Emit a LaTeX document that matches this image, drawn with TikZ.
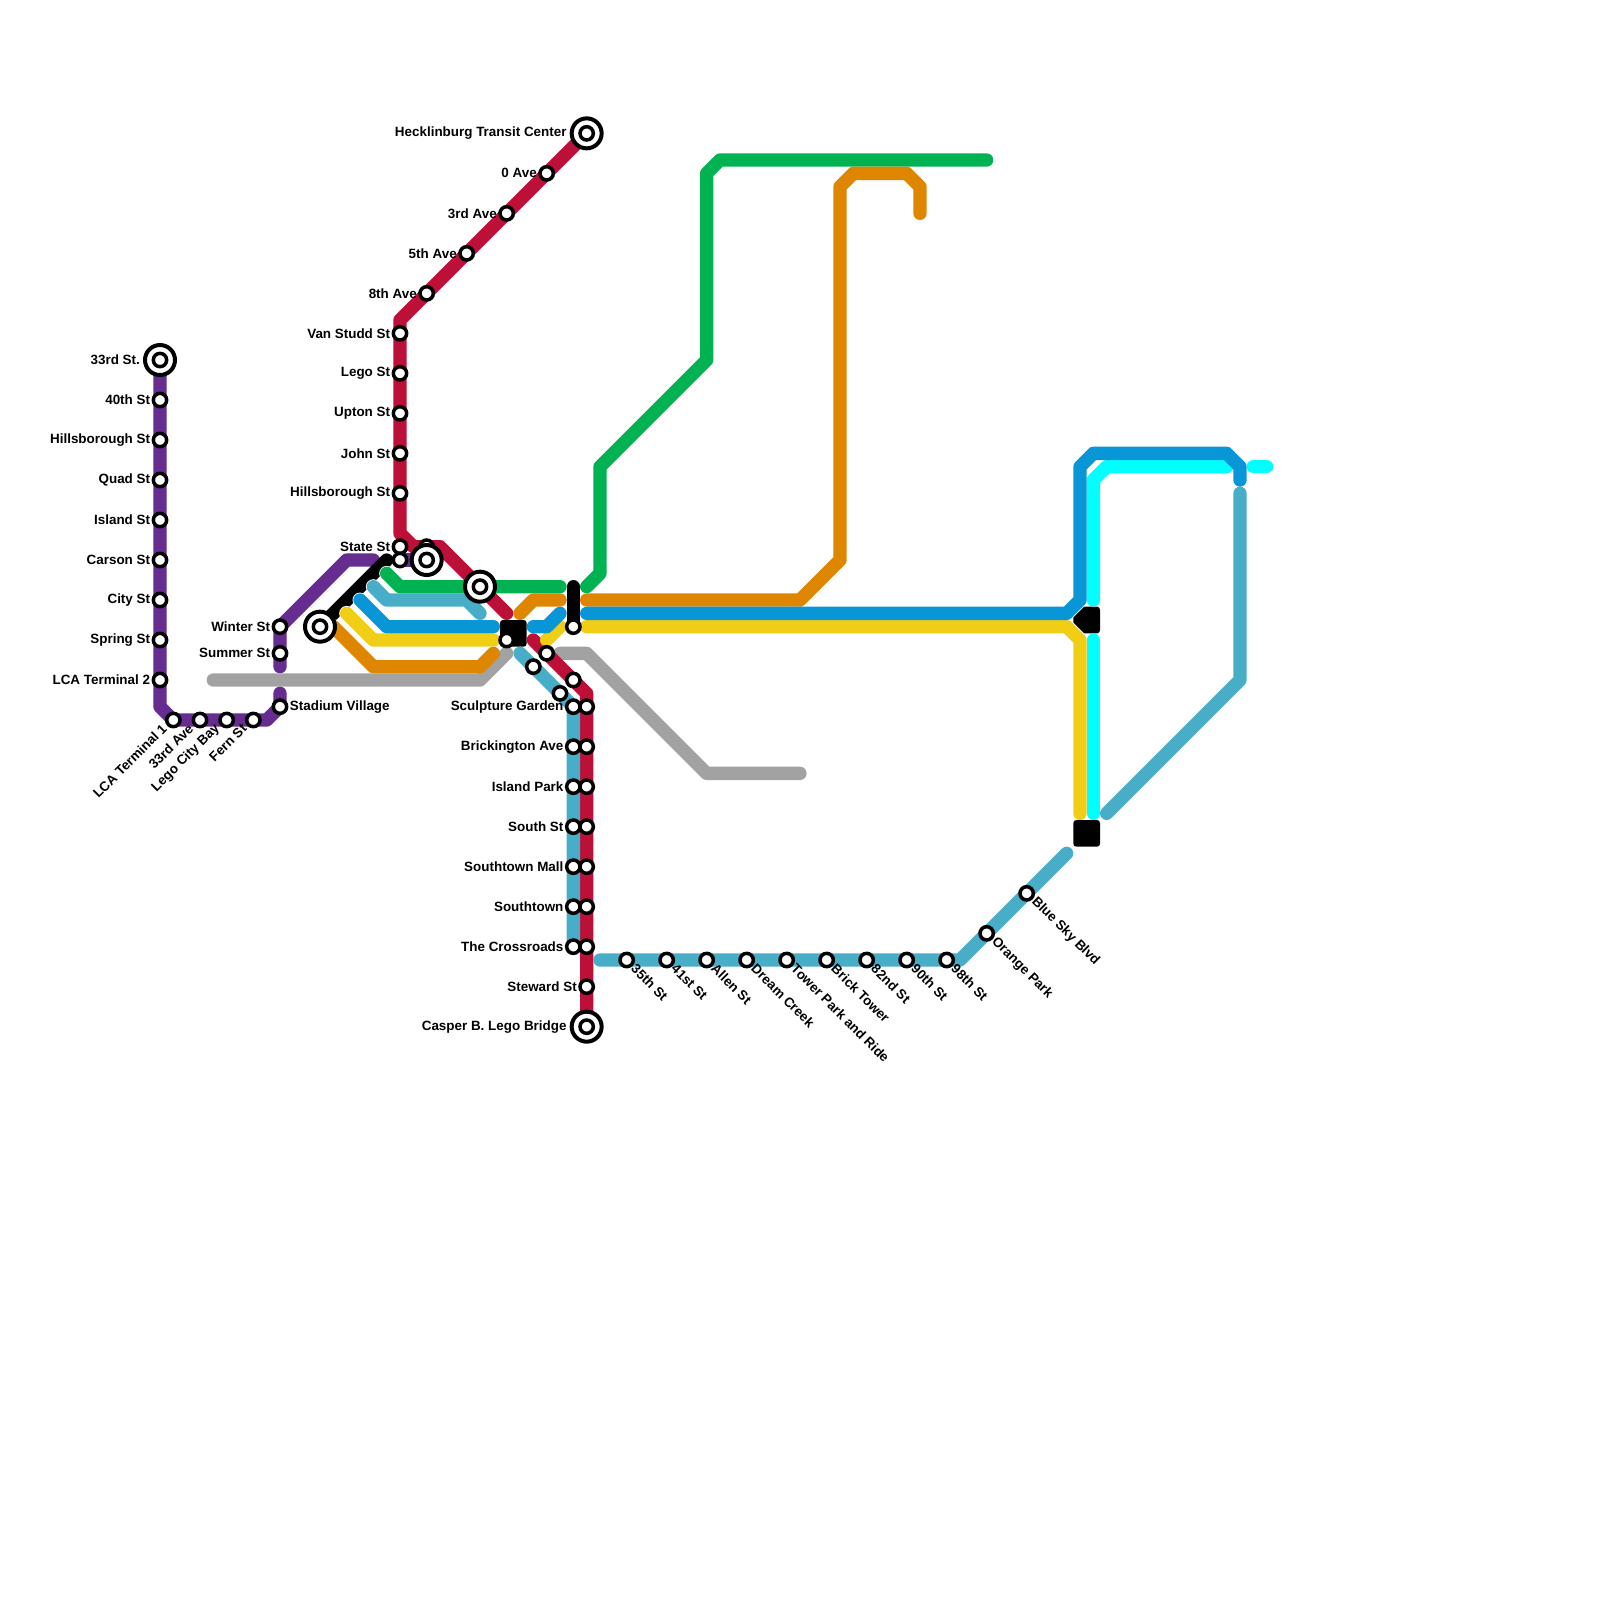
\documentclass[tikz,border=0pt]{standalone}
\usepackage{fontspec}
\setmainfont{Liberation Sans}
\usepackage{xcolor}
\usepackage{tikz}
\definecolor{lnpurple}{HTML}{662C90}
\definecolor{lnred}{HTML}{BD1038}
\definecolor{lngreen}{HTML}{00B251}
\definecolor{lnorange}{HTML}{DF8600}
\definecolor{lnyellow}{HTML}{F0CE15}
\definecolor{lnblue}{HTML}{0896D7}
\definecolor{lnteal}{HTML}{48ADC7}
\definecolor{lngray}{HTML}{A2A2A2}
\definecolor{lncyan}{HTML}{00FFFF}
\tikzset{
  metro/.style={line width=0.1333cm,line cap=round,line join=round},
  stn/.style={circle,draw=black,fill=white,line width=0.035cm,minimum size=0.1333cm,inner sep=0pt},
  hubring/.style={circle,draw=black,fill=white,line width=0.04cm,minimum size=0.3cm,inner sep=0pt},
  lab/.style={font=\fontsize{3.82pt}{4.4pt}\selectfont\bfseries,inner sep=0pt,text=black},
}
\begin{document}
\begin{tikzpicture}[x=0.13333cm,y=-0.13333cm,label distance=0.008cm]
\useasboundingbox (0,0) rectangle (120,120);
% purple branch that ends behind the black bar
\draw[metro,lnpurple] (21,50)--(21,47)--(26,42)--(28,42);
% black transfer pieces
\draw[metro,black] (24,47)--(29,42);
\draw[metro,black] (43,44)--(43,47);
\fill[black,rounded corners=0.03cm] (37.5,46.5) rectangle (39.5,48.5);
\fill[black,rounded corners=0.03cm] (80.5,45.5) rectangle (82.5,47.5);
\fill[black,rounded corners=0.03cm] (80.5,61.5) rectangle (82.5,63.5);
\foreach \x/\y in {29/43,28/44,27/45,26/46,25/47}
  \fill[white] (\x,\y) circle (0.56);
\draw[line width=0.15cm,line cap=round,white] (80,46)--(81,45);
\draw[line width=0.15cm,line cap=round,white] (80,47)--(81,48);
% gray
\draw[metro,lngray] (16,51)--(36,51)--(38,49);
\draw[metro,lngray] (42,49)--(44,49)--(53,58)--(60,58);
% purple
\draw[metro,lnpurple] (12,27)--(12,53)--(13,54)--(20,54)--(21,53)--(21,52);
\draw[metro,lnpurple] (30,42)--(32,42);
% red
\draw[metro,lnred] (44,10)--(30,24)--(30,40)--(31,41)--(33,41)--(38,46);
\draw[metro,lnred] (40,48)--(44,52)--(44,77);
% teal
\draw[metro,lnteal] (28,44)--(29,45)--(35,45)--(36,46);
\draw[metro,lnteal] (39,49)--(43,53)--(43,71);
\draw[metro,lnteal] (45,72)--(72,72)--(80,64);
\draw[metro,lnteal] (83,61)--(93,51)--(93,37);
% green
\draw[metro,lngreen] (29,43)--(30,44)--(42,44);
\draw[metro,lngreen] (44,44)--(45,43)--(45,35)--(53,27)--(53,13)--(54,12)--(74,12);
% orange
\draw[metro,lnorange] (25,47)--(28,50)--(36,50)--(37,49);
\draw[metro,lnorange] (39,46)--(40,45)--(42,45);
\draw[metro,lnorange] (44,45)--(60,45)--(63,42)--(63,14)--(64,13)--(68,13)--(69,14)--(69,16);
% yellow
\draw[metro,lnyellow] (26,46)--(28,48)--(37,48);
\draw[metro,lnyellow] (41,48)--(42,47);
\draw[metro,lnyellow] (44,47)--(80,47)--(81,48)--(81,61);
% cyan
\draw[metro,lncyan] (82,45)--(82,36)--(83,35)--(92,35);
\draw[metro,lncyan] (94,35)--(95,35);
\draw[metro,lncyan] (82,48)--(82,61);
% blue
\draw[metro,lnblue] (27,45)--(29,47)--(37,47);
\draw[metro,lnblue] (40,47)--(41,47)--(42,46);
\draw[metro,lnblue] (44,46)--(80,46)--(81,45)--(81,35)--(82,34)--(92,34)--(93,35)--(93,36);
% purple stations
\node[hubring] (hubthird) at (12,27) {};
\node[stn,label={[lab,label distance=0.11cm]left:33rd St.}] (third) at (12,27) {};
\foreach \y/\lbl in {30/40th St,33/Hillsborough St,36/Quad St,39/Island St,42/Carson St,45/City St,48/Spring St,51/LCA Terminal 2}
  \node[stn,label={[lab]left:\lbl}] (pu\y) at (12,\y) {};
\foreach \x/\lbl in {13/LCA Terminal 1,15/33rd Ave,17/Lego City Bay,19/Fern St}{
  \node[stn] (pb\x) at (\x,54) {};
  \node[lab,rotate=45,anchor=east] (pbl\x) at ([shift={(-0.65,0.45)}]pb\x) {\lbl};
}
\node[stn,label={[lab]right:Stadium Village}] (stadium) at (21,53) {};
\node[stn,label={[lab]left:Winter St}] (winter) at (21,47) {};
\node[stn,label={[lab]left:Summer St}] (summer) at (21,49) {};
% red stations
\node[hubring] (hubheck) at (44,10) {};
\node[stn,label={[lab,label distance=0.11cm]left:Hecklinburg Transit Center}] (heck) at (44,10) {};
\node[stn,label={[lab]left:0 Ave}] (ave0) at (41,13) {};
\node[stn,label={[lab]left:3rd Ave}] (ave3) at (38,16) {};
\node[stn,label={[lab]left:5th Ave}] (ave5) at (35,19) {};
\node[stn,label={[lab]left:8th Ave}] (ave8) at (32,22) {};
\foreach \y/\lbl in {25/Van Studd St,28/Lego St,31/Upton St,34/John St,37/Hillsborough St,41/State St}
  \node[stn,label={[lab]left:\lbl}] (re\y) at (30,\y) {};
\node[stn] (redlow) at (30,42) {};
\node[stn] (redtop) at (32,41) {};
\node[hubring] (hubpark) at (32,42) {};
\node[stn] (park) at (32,42) {};
\node[hubring] (hubgreen) at (36,44) {};
\node[stn] (greenstn) at (36,44) {};
\node[hubring] (hubblack) at (24,47) {};
\node[stn] (blackstn) at (24,47) {};
% middle stations
\node[stn] (sq) at (38,48) {};
\node[stn] (bar) at (43,47) {};
\foreach \x/\y in {41/49,43/51,40/50,42/52}
  \node[stn] (mid\x) at (\x,\y) {};
% the two long columns
\foreach \y/\lbl in {53/Sculpture Garden,56/Brickington Ave,59/Island Park,62/South St,65/Southtown Mall,68/Southtown,71/The Crossroads}{
  \node[stn,label={[lab]left:\lbl}] (te\y) at (43,\y) {};
  \node[stn] (rd\y) at (44,\y) {};
}
\node[stn,label={[lab]left:Steward St}] (steward) at (44,74) {};
\node[hubring] (hubcasper) at (44,77) {};
\node[stn,label={[lab,label distance=0.11cm]left:Casper B. Lego Bridge}] (casper) at (44,77) {};
% teal stations along the bottom
\foreach \x/\y/\lbl in {47/72/35th St,50/72/41st St,53/72/Allen St,56/72/Dream Creek,59/72/Tower Park and Ride,62/72/Brick Tower,65/72/82nd St,68/72/90th St,71/72/98th St,74/70/Orange Park,77/67/Blue Sky Blvd}{
  \node[stn] (bt\x) at (\x,\y) {};
  \node[lab,rotate=-45,anchor=west] (btl\x) at ([shift={(0.5,0.45)}]bt\x) {\lbl};
}
\end{tikzpicture}
\end{document}
